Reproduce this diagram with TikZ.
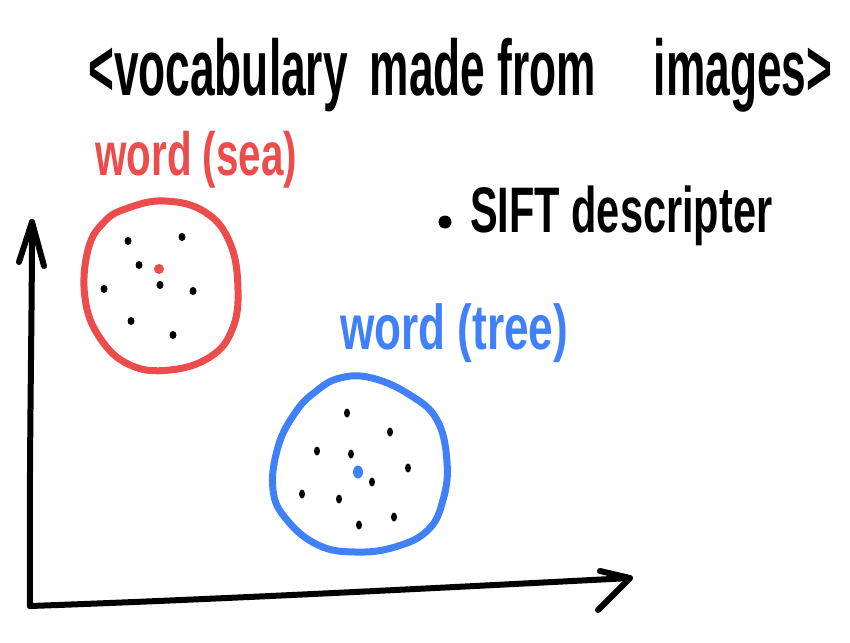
\documentclass[tikz,border=0pt]{standalone}
\usepackage{fontspec}
\setmainfont{Liberation Sans}
\usepackage{graphicx}
\definecolor{penred}{RGB}{236,76,76}
\definecolor{penblue}{RGB}{64,128,248}
\begin{document}
\begin{tikzpicture}[x=1pt,y=-1pt,
  pen/.style={line width=6pt,line cap=round,line join=round},
  lbl/.style={inner sep=0pt,anchor=north west,font=\bfseries}]
\useasboundingbox (0,0) rectangle (850,642);
% title
\node[lbl] (title) at (88,38) {\resizebox*{744pt}{74pt}{<vocabulary\hspace{0.5em}made from\hspace{1.3em}images>}};
% bullet text
\fill (445,222) circle (6.5);
\node[lbl] (sift) at (470,186) {\resizebox*{302pt}{60pt}{SIFT descripter}};
% labels
\node[lbl,text=penred] (sealbl) at (95,131) {\resizebox*{202pt}{57pt}{word (sea)}};
\node[lbl,text=penblue] (treelbl) at (340,303) {\resizebox*{228pt}{59pt}{word (tree)}};
% axes
\coordinate (O) at (30,606);
\coordinate (ytip) at (32,222);
\coordinate (xtip) at (630,578);
\draw[pen] (O) .. controls (29,450) and (32,330) .. (ytip);
\draw[pen] (19,262) -- (ytip) -- (44,266);
\draw[pen] (O) .. controls (200,600) and (400,590) .. (xtip);
\draw[pen] (600,571) -- (xtip) -- (598,610);
% red cluster
\draw[pen,penred,line width=7pt] plot[smooth cycle,tension=0.7] coordinates
 {(128,208) (165,201) (205,212) (230,243) (238,290) (232,330) (210,357) (170,370) (130,365) (100,338) (85,298) (88,250) (104,222)};
\foreach \p in {(128,241),(182,237),(139,265),(160,285),(104,289),(193,291),(131,321),(173,335)}
  \fill \p ellipse (3.5 and 4);
\fill[penred] (159,269) circle (5);
% blue cluster
\draw[pen,penblue,line width=7pt] plot[smooth cycle,tension=0.7] coordinates
 {(340,378) (372,378) (410,395) (437,420) (447,462) (443,500) (428,530) (395,547) (355,552) (318,545) (287,520) (273,490) (278,447) (295,413) (315,392)};
\foreach \p in {(347,413),(390,432),(317,451),(351,454),(408,468),(372,482),(302,494),(339,499),(394,517),(359,525)}
  \fill \p ellipse (3 and 4.5);
\fill[penblue] (358,472) ellipse (5 and 6.5);
\end{tikzpicture}
\end{document}
